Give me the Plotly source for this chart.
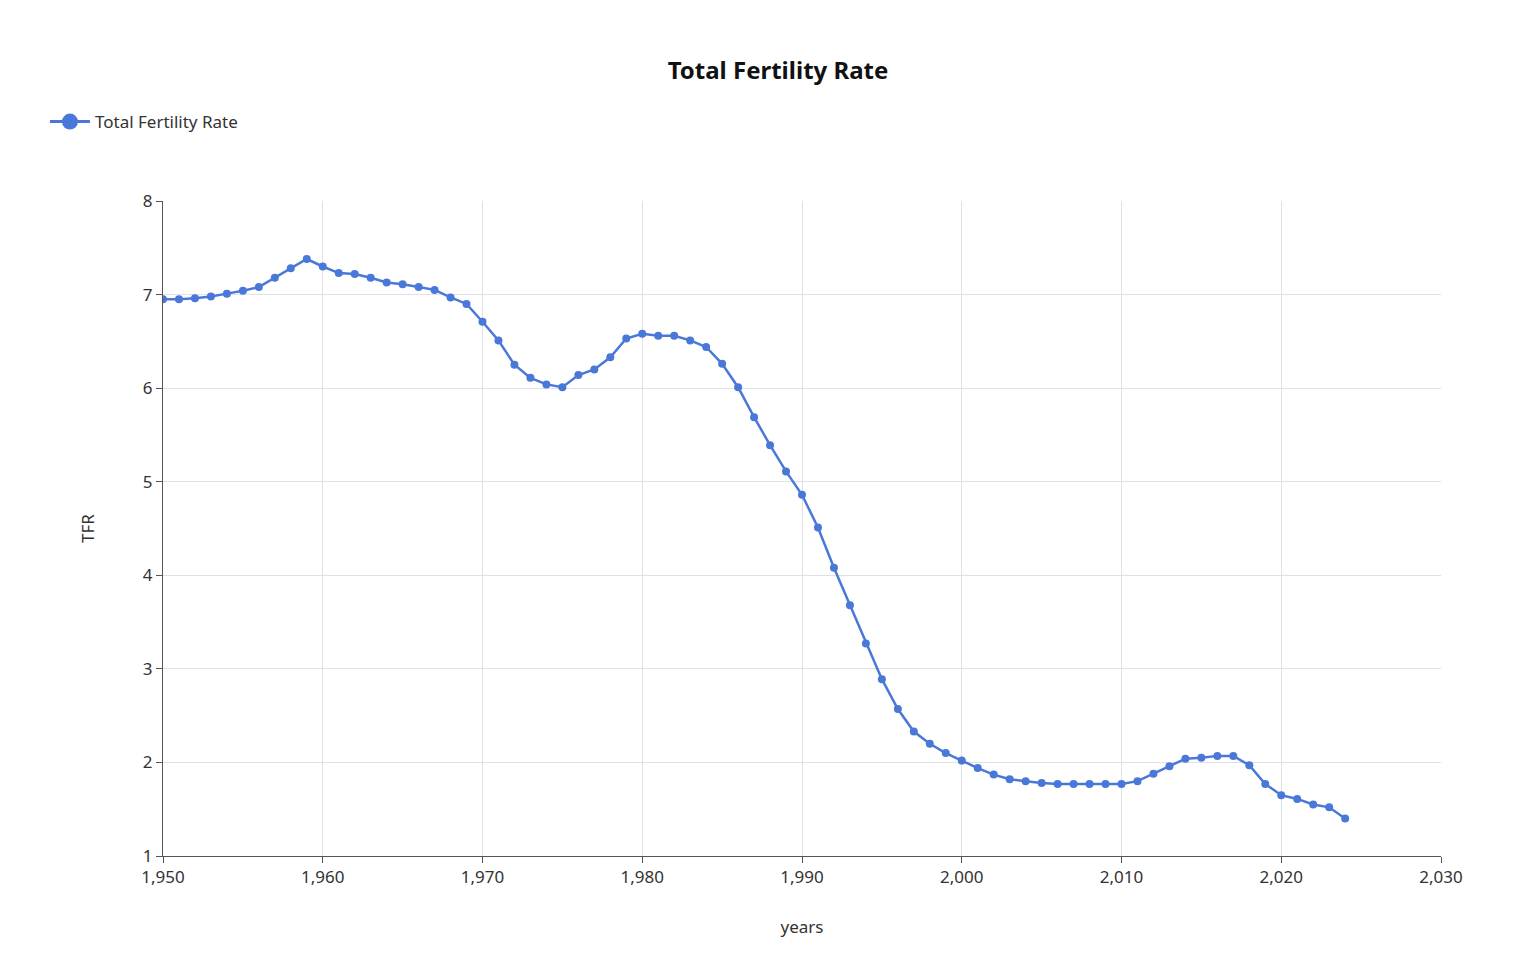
import plotly.graph_objects as go

years = list(range(1950, 2025))
tfr = [
    6.95, 6.95, 6.96, 6.98, 7.01, 7.04, 7.08, 7.18, 7.28, 7.38,
    7.30, 7.23, 7.22, 7.18, 7.13, 7.11, 7.08, 7.05, 6.97, 6.90,
    6.71, 6.51, 6.25, 6.11, 6.04, 6.01, 6.14, 6.20, 6.33, 6.53,
    6.58, 6.56, 6.56, 6.51, 6.44, 6.26, 6.01, 5.69, 5.39, 5.11,
    4.86, 4.51, 4.08, 3.68, 3.27, 2.89, 2.57, 2.33, 2.20, 2.10,
    2.02, 1.94, 1.87, 1.82, 1.80, 1.78, 1.77, 1.77, 1.77, 1.77,
    1.77, 1.80, 1.88, 1.96, 2.04, 2.05, 2.07, 2.07, 1.97, 1.77,
    1.65, 1.61, 1.55, 1.52, 1.40,
]

series_name = "Total Fertility Rate"
title_text = "Total Fertility Rate"
x_title = "years"
y_title = "TFR"

color = "#4a78d8"
font_family = "Noto Sans, Open Sans, sans-serif"

fig = go.Figure()
fig.add_trace(go.Scatter(
    x=years, y=tfr, mode="lines+markers", name=series_name,
    line=dict(color=color, width=2.5),
    marker=dict(color=color, size=8),
    showlegend=False,
))
# legend-only entry with a larger symbol, as in the reference
fig.add_trace(go.Scatter(
    x=[None], y=[None], mode="lines+markers", name=series_name,
    line=dict(color=color, width=3),
    marker=dict(color=color, size=16),
    showlegend=True, hoverinfo="skip",
))

fig.update_layout(
    width=1540, height=980,
    paper_bgcolor="white", plot_bgcolor="white",
    font=dict(family=font_family, color="#333333", size=16),
    title=dict(text="<b>" + title_text + "</b>", x=0.5, xanchor="center",
               y=1 - 63 / 980, yanchor="middle", yref="container",
               font=dict(size=24, color="#111111")),
    margin=dict(l=155, r=107, t=193, b=132),
    legend=dict(xref="container", yref="container", x=0.024, y=1 - 114 / 980,
                xanchor="left", yanchor="middle", orientation="h",
                itemwidth=40,
                font=dict(size=17, color="#333333"), bgcolor="rgba(0,0,0,0)"),
    showlegend=True,
    xaxis=dict(
        range=[1950, 2030], dtick=10, tick0=1950, tickformat=",",
        showgrid=True, gridcolor="#e0e0e8", gridwidth=1,
        showline=True, linecolor="#555555", linewidth=1,
        ticks="outside", ticklen=6, tickcolor="#555555",
        zeroline=False,
        title=dict(text=x_title, standoff=33, font=dict(size=17)),
        tickfont=dict(size=17),
    ),
    yaxis=dict(
        range=[1, 8], dtick=1, tick0=1,
        showgrid=True, gridcolor="#e0e0e8", gridwidth=1,
        showline=True, linecolor="#555555", linewidth=1,
        ticks="outside", ticklen=6, tickcolor="#555555",
        zeroline=False,
        title=dict(text=y_title, standoff=43, font=dict(size=17)),
        tickfont=dict(size=17),
    ),
)

fig.write_html("out.html")
